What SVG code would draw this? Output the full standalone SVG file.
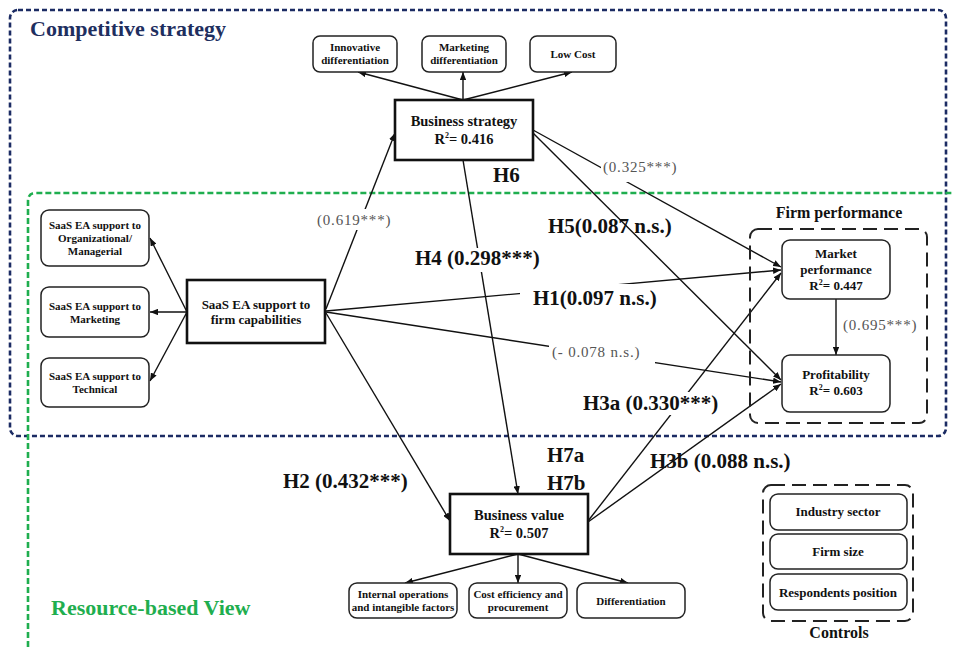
<svg xmlns="http://www.w3.org/2000/svg" width="953" height="647" viewBox="0 0 953 647">
<defs>
<marker id="arr" viewBox="0 0 10 8" refX="10" refY="4" markerWidth="8" markerHeight="6.4" orient="auto" markerUnits="userSpaceOnUse">
<path d="M0,0 L10,4 L0,8 z" fill="#111"/>
</marker>
<style>
text{font-family:"Liberation Serif","Times New Roman",serif;font-weight:bold;fill:#111;text-anchor:middle}
.box{fill:#fff;stroke:#222;stroke-width:1.5}
.main{fill:#fff;stroke:#111;stroke-width:2.6}
.conn{stroke:#111;stroke-width:1.4;fill:none;marker-end:url(#arr)}
.s11{font-size:11px}
.s13{font-size:13px}
.s14{font-size:14.5px}
.hyp{font-size:21px;text-anchor:start}
.coef{font-size:15px;font-weight:normal;fill:#555;text-anchor:start;letter-spacing:0.8px}
.mask{fill:#fff}
.dash{fill:none;stroke:#222;stroke-width:2;stroke-dasharray:14 7}
.sup{font-size:8px}
</style>
</defs>

<g id="frames">
<rect x="10" y="10" width="936" height="426" rx="8" fill="none" stroke="#1b2b63" stroke-width="2.6" stroke-dasharray="5 3"/>
<path d="M28,647 V201 Q28,193 36,193 H953" fill="none" stroke="#1fae4f" stroke-width="2.6" stroke-dasharray="6 3"/>
<text x="30" y="36" style="font-size:22px;fill:#1f2f5f;text-anchor:start">Competitive strategy</text>
<text x="51" y="615" style="font-size:22px;fill:#1fae4f;text-anchor:start">Resource-based View</text>
</g>

<g id="connectors">
<path class="conn" d="M326,309 L395,133"/>
<path class="conn" d="M463,100 L358,72"/>
<path class="conn" d="M463,100 L463,72"/>
<path class="conn" d="M463,100 L572,72"/>
<path class="conn" d="M533,130 L781,267"/>
<path class="conn" d="M533,133 L781,380"/>
<path class="conn" d="M463,160 L518,494"/>
<path class="conn" d="M326,311 L781,270"/>
<path class="conn" d="M326,312 L781,382"/>
<path class="conn" d="M326,313 L450,521"/>
<path class="conn" d="M187,312 L150,238"/>
<path class="conn" d="M187,312 L150,312"/>
<path class="conn" d="M187,312 L150,381"/>
<path class="conn" d="M588,521 L781,273"/>
<path class="conn" d="M588,522 L781,384"/>
<path class="conn" d="M836,299 L836,355"/>
<path class="conn" d="M518,554 L405,583"/>
<path class="conn" d="M518,554 L518,583"/>
<path class="conn" d="M518,554 L628,583"/>
</g>

<g id="node-innovative">
<rect class="box" x="313" y="36" width="84" height="36" rx="7"/>
<text class="s11" x="355" y="51">Innovative</text>
<text class="s11" x="355" y="64">differentiation</text>
</g>
<g id="node-marketing-diff">
<rect class="box" x="422" y="36" width="84" height="36" rx="7"/>
<text class="s11" x="464" y="51">Marketing</text>
<text class="s11" x="464" y="64">differentiation</text>
</g>
<g id="node-lowcost">
<rect class="box" x="530" y="36" width="86" height="36" rx="7"/>
<text class="s11" x="573" y="58">Low Cost</text>
</g>
<g id="node-business-strategy">
<rect class="main" x="395" y="100" width="138" height="60"/>
<text class="s14" x="464" y="126">Business strategy</text>
<text class="s14" x="464" y="144">R<tspan class="sup" dy="-6">2</tspan><tspan dy="6">= 0.416</tspan></text>
</g>
<g id="node-saas">
<rect class="main" x="187" y="280" width="138" height="63" stroke-width="3"/>
<text class="s13" x="256" y="309">SaaS EA support to</text>
<text class="s13" x="256" y="324">firm capabilities</text>
</g>
<g id="node-saas-org">
<rect class="box" x="41" y="210" width="108" height="56" rx="8"/>
<text class="s11" x="95" y="229">SaaS EA support to</text>
<text class="s11" x="95" y="242">Organizational/</text>
<text class="s11" x="95" y="255">Managerial</text>
</g>
<g id="node-saas-mkt">
<rect class="box" x="41" y="287" width="108" height="50" rx="8"/>
<text class="s11" x="95" y="310">SaaS EA support to</text>
<text class="s11" x="95" y="323">Marketing</text>
</g>
<g id="node-saas-tech">
<rect class="box" x="41" y="358" width="108" height="49" rx="8"/>
<text class="s11" x="95" y="380">SaaS EA support to</text>
<text class="s11" x="95" y="393">Technical</text>
</g>
<g id="group-firm-performance">
<rect class="dash" x="750" y="229" width="177" height="194" rx="8"/>
<text x="839" y="218" style="font-size:16px">Firm performance</text>
</g>
<g id="node-market-performance">
<rect class="box" x="782" y="240" width="108" height="59" rx="8"/>
<text class="s13" x="836" y="258">Market</text>
<text class="s13" x="836" y="274">performance</text>
<text class="s13" x="836" y="290">R<tspan class="sup" dy="-5">2</tspan><tspan dy="5">= 0.447</tspan></text>
</g>
<g id="node-profitability">
<rect class="box" x="782" y="355" width="108" height="57" rx="8"/>
<text class="s13" x="836" y="379">Profitability</text>
<text class="s13" x="836" y="395">R<tspan class="sup" dy="-5">2</tspan><tspan dy="5">= 0.603</tspan></text>
</g>
<g id="node-business-value">
<rect class="main" x="450" y="494" width="138" height="60"/>
<text class="s14" x="519" y="520">Business value</text>
<text class="s14" x="519" y="538">R<tspan class="sup" dy="-6">2</tspan><tspan dy="6">= 0.507</tspan></text>
</g>
<g id="node-internal">
<rect class="box" x="349" y="583" width="108" height="35" rx="8"/>
<text class="s11" x="403" y="598">Internal operations</text>
<text class="s11" x="403" y="611">and intangible factors</text>
</g>
<g id="node-cost">
<rect class="box" x="469" y="583" width="98" height="35" rx="8"/>
<text class="s11" x="518" y="598">Cost efficiency and</text>
<text class="s11" x="518" y="611">procurement</text>
</g>
<g id="node-differentiation">
<rect class="box" x="577" y="583" width="108" height="35" rx="8"/>
<text class="s11" x="631" y="605">Differentiation</text>
</g>
<g id="group-controls">
<rect class="dash" x="763" y="485" width="150" height="136" rx="8"/>
<text x="839" y="638" style="font-size:16px">Controls</text>
</g>
<g id="node-industry">
<rect class="box" x="770" y="494" width="137" height="36" rx="8"/>
<text class="s13" x="838" y="516">Industry sector</text>
</g>
<g id="node-firmsize">
<rect class="box" x="770" y="534" width="137" height="35" rx="8"/>
<text class="s13" x="838" y="556">Firm size</text>
</g>
<g id="node-respondents">
<rect class="box" x="770" y="574" width="137" height="36" rx="8"/>
<text class="s13" x="838" y="597">Respondents position</text>
</g>

<g id="labels">
<rect class="mask" x="315" y="209" width="78" height="21"/>
<text class="coef" x="317" y="225">(0.619***)</text>
<rect class="mask" x="601" y="158" width="80" height="24"/>
<text class="coef" x="603" y="172">(0.325***)</text>
<rect class="mask" x="549" y="344" width="106" height="20"/>
<text class="coef" x="552" y="357">(- 0.078 n.s.)</text>
<text class="coef" x="843" y="330">(0.695***)</text>
<text class="hyp" x="493" y="182">H6</text>
<rect class="mask" x="413" y="248" width="134" height="24"/>
<text class="hyp" x="415" y="265">H4 (0.298***)</text>
<text class="hyp" x="548" y="233">H5(0.087 n.s.)</text>
<rect class="mask" x="520" y="284" width="146" height="24"/>
<text class="hyp" x="533" y="305">H1(0.097 n.s.)</text>
<rect class="mask" x="581" y="392" width="147" height="23"/>
<text class="hyp" x="583" y="410">H3a (0.330***)</text>
<text class="hyp" x="650" y="468">H3b (0.088 n.s.)</text>
<text class="hyp" x="283" y="488">H2 (0.432***)</text>
<text class="hyp" x="547" y="462">H7a</text>
<text class="hyp" x="547" y="490">H7b</text>
</g>
</svg>
